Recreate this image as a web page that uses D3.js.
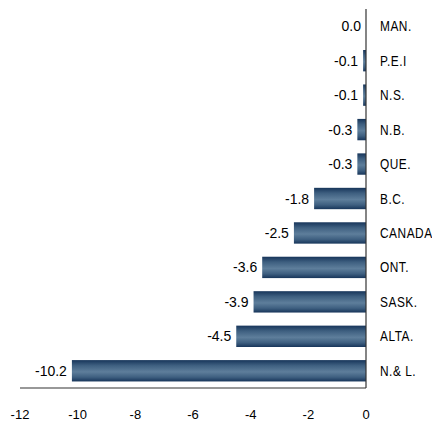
<!DOCTYPE html>
<html>
<head>
<meta charset="utf-8">
<script src="https://cdn.jsdelivr.net/npm/d3@7"></script>
<style>
body { margin: 0; background: #fff; }
svg { display: block; font-family: "Liberation Sans", Arial, sans-serif; }
</style>
</head>
<body>
<svg id="chart" width="432" height="422"></svg>
<script>
// values, top to bottom
let provinces = ['MAN.', 'P.E.I', 'N.S.', 'N.B.', 'QUE.', 'B.C.', 'CANADA', 'ONT.', 'SASK.', 'ALTA.', 'N.& L.'];
let changes = [0.0, -0.1, -0.1, -0.3, -0.3, -1.8, -2.5, -3.6, -3.9, -4.5, -10.2];
let xTicks = [-12, -10, -8, -6, -4, -2, 0];

let svg = d3.select('#chart');

let x = d3.scaleLinear().domain([-12, 0]).range([20, 366]);
let y = d3.scaleBand().domain(provinces).range([9, 388]).paddingInner(0.38).paddingOuter(0.19);

// vertical gradient: dark edges, lighter middle
let grad = svg.append('defs').append('linearGradient')
	.attr('id', 'barGrad').attr('x1', 0).attr('y1', 0).attr('x2', 0).attr('y2', 1);
grad.append('stop').attr('offset', '0%').attr('stop-color', '#17355a');
grad.append('stop').attr('offset', '25%').attr('stop-color', '#3e5f80');
grad.append('stop').attr('offset', '55%').attr('stop-color', '#5e7e9b');
grad.append('stop').attr('offset', '80%').attr('stop-color', '#3e5f80');
grad.append('stop').attr('offset', '100%').attr('stop-color', '#17355a');

let data = provinces.map((p, i) => ({name: p, v: changes[i]}));

svg.selectAll('rect.bar').data(data).join('rect')
	.attr('class', 'bar')
	.attr('x', d => x(d.v))
	.attr('y', d => y(d.name))
	.attr('width', d => x(0) - x(d.v))
	.attr('height', y.bandwidth())
	.style('fill', 'url(#barGrad)');

// value labels left of bars
svg.selectAll('text.val').data(data).join('text')
	.attr('class', 'val')
	.attr('x', d => x(d.v) - 5)
	.attr('y', d => y(d.name) + y.bandwidth() / 2)
	.attr('dy', '0.36em')
	.attr('text-anchor', 'end')
	.style('font-size', '14px')
	.style('fill', '#000')
	.text(d => d.v.toFixed(1));

// category labels right of the zero line (narrow type, so squeeze horizontally)
svg.selectAll('text.cat').data(data).join('text')
	.attr('class', 'cat')
	.attr('transform', d => 'translate(380,' + (y(d.name) + y.bandwidth() / 2) + ') scale(0.85,1)')
	.attr('dy', '0.36em')
	.style('font-size', '14px')
	.style('letter-spacing', '0.6px')
	.style('fill', '#000')
	.text(d => d.name);

// axes lines
svg.append('line')
	.attr('x1', x(0)).attr('x2', x(0))
	.attr('y1', 9).attr('y2', 388)
	.style('stroke', '#333').style('stroke-width', 1.2);
svg.append('line')
	.attr('x1', x(-12)).attr('x2', x(0))
	.attr('y1', 388).attr('y2', 388)
	.style('stroke', '#333').style('stroke-width', 1.2);

// tick labels
svg.selectAll('text.tick').data(xTicks).join('text')
	.attr('class', 'tick')
	.attr('x', d => x(d))
	.attr('y', 419)
	.attr('text-anchor', 'middle')
	.style('font-size', '13px')
	.style('fill', '#000')
	.text(d => d);
</script>
</body>
</html>
